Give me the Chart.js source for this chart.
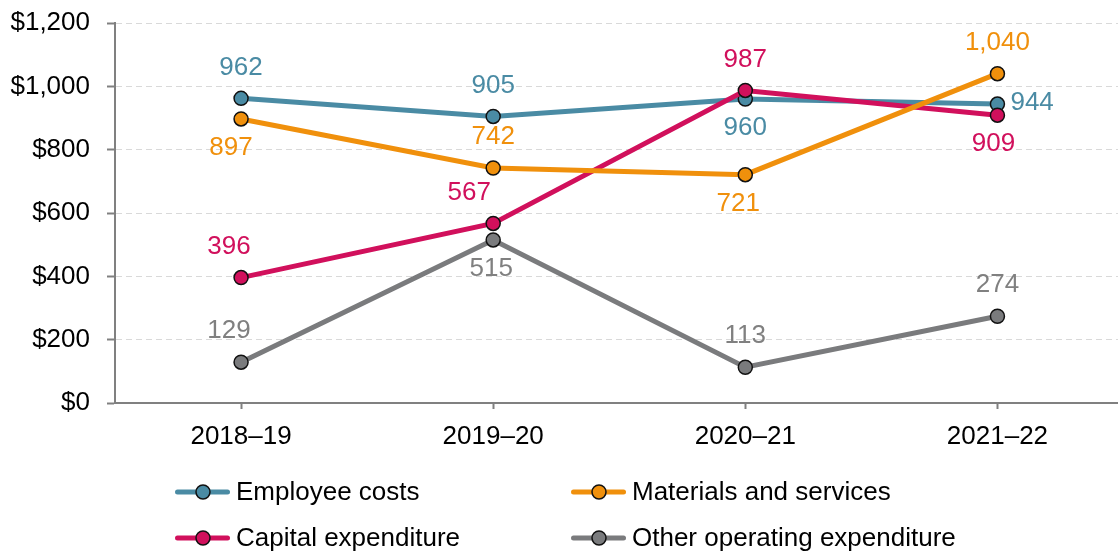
<!DOCTYPE html>
<html>
<head>
<meta charset="utf-8">
<script src="https://cdn.jsdelivr.net/npm/chart.js@4"></script>
<style>
html,body{margin:0;padding:0;background:#fff;overflow:hidden;}
#wrap{width:1132px;height:551px;}
</style>
</head>
<body>
<div id="wrap"><canvas id="c" width="1132" height="551"></canvas></div>
<script>
const categories = ['2018\u201319','2019\u201320','2020\u201321','2021\u201322'];
const employeeCosts = [962, 905, 960, 944];
const materialsServices = [897, 742, 721, 1040];
const capitalExpenditure = [396, 567, 987, 909];
const otherOperating = [129, 515, 113, 274];
const yTicks = [0, 200, 400, 600, 800, 1000, 1200];

// label placement: a = above, b = below, r = right
const labelPos = [
  ['a','a','b','r'],
  ['b','a','b','a'],
  ['a','a','a','b'],
  ['a','b','a','a']
];
const labelDx = [
  [0,0,0,0],
  [-10,0,-7,0],
  [-12,-24,0,-4],
  [-12,-2,0,0]
];

const colors = ['#4A8BA4','#F0900C','#D1105C','#7A7B7D'];
const labelColors = ['#4A8BA4','#F0900C','#D1105C','#808080'];
const FONT = '"Liberation Sans", Arial, sans-serif';
const FS = 26;

function mkDs(label, data, idx, order){
  return {
    label, data,
    borderColor: colors[idx],
    backgroundColor: colors[idx],
    pointBackgroundColor: colors[idx],
    pointBorderColor: '#111',
    pointBorderWidth: 1.5,
    pointRadius: 7,
    pointHoverRadius: 7,
    borderWidth: 5,
    tension: 0,
    order
  };
}

const labelPlugin = {
  id: 'valLabels',
  afterDatasetsDraw(chart){
    const ctx = chart.ctx;
    ctx.save();
    ctx.font = FS + 'px ' + FONT;
    chart.data.datasets.forEach((ds, i) => {
      const meta = chart.getDatasetMeta(i);
      meta.data.forEach((pt, j) => {
        const v = ds.data[j].toLocaleString('en-US');
        const p = labelPos[i][j];
        ctx.fillStyle = labelColors[i];
        ctx.textBaseline = 'middle';
        let x = pt.x + labelDx[i][j], y = pt.y;
        if (p === 'a') { ctx.textAlign = 'center'; y -= 31; }
        else if (p === 'b') { ctx.textAlign = 'center'; y += 29; }
        else { ctx.textAlign = 'left'; x += 13; y -= 1; }
        ctx.fillText(v, x, y);
      });
    });
    ctx.restore();
  }
};

const legendPlugin = {
  id: 'customLegend',
  afterDraw(chart){
    const ctx = chart.ctx;
    const spots = [[175,492],[571,492],[175,538],[571,538]];
    ctx.save();
    chart.data.datasets.forEach((ds, i) => {
      const [x, y] = spots[i];
      ctx.strokeStyle = colors[i];
      ctx.lineWidth = 5;
      ctx.lineCap = 'round';
      ctx.beginPath(); ctx.moveTo(x + 2.5, y); ctx.lineTo(x + 52.5, y); ctx.stroke();
      ctx.beginPath(); ctx.arc(x + 28, y, 7, 0, Math.PI * 2);
      ctx.fillStyle = colors[i]; ctx.fill();
      ctx.lineWidth = 1.5; ctx.strokeStyle = '#111'; ctx.stroke();
      ctx.fillStyle = '#000';
      ctx.font = FS + 'px ' + FONT;
      ctx.textAlign = 'left'; ctx.textBaseline = 'middle';
      ctx.fillText(ds.label, x + 61, y + 1);
    });
    ctx.restore();
  }
};

new Chart(document.getElementById('c'), {
  type: 'line',
  data: {
    labels: categories,
    datasets: [
      mkDs('Employee costs', employeeCosts, 0, 4),
      mkDs('Materials and services', materialsServices, 1, 2),
      mkDs('Capital expenditure', capitalExpenditure, 2, 3),
      mkDs('Other operating expenditure', otherOperating, 3, 1)
    ]
  },
  options: {
    responsive: false,
    animation: false,
    layout: { padding: { top: 23, left: 0, right: 0, bottom: 0 } },
    plugins: { legend: { display: false }, tooltip: { enabled: false } },
    scales: {
      x: {
        offset: true,
        grid: { drawOnChartArea: false, drawTicks: true, tickLength: 6, tickColor: '#808080', tickWidth: 2 },
        border: { color: '#808080', width: 2 },
        ticks: { color: '#000', font: { family: FONT, size: FS }, padding: 12, maxRotation: 0 },
        afterFit(s){ s.height = 148; s.paddingLeft = 0; s.paddingRight = 0; }
      },
      y: {
        min: 0, max: 1200,
        afterBuildTicks(s){ s.ticks = yTicks.map(v => ({ value: v })); },
        grid: { color: '#D9D9D9', lineWidth: 1, tickLength: 8, tickColor: '#808080', tickWidth: 2 },
        border: { color: '#808080', width: 2, dash: [6, 4] },
        ticks: {
          color: '#000', font: { family: FONT, size: FS }, padding: 17,
          callback: v => '$' + v.toLocaleString('en-US')
        },
        afterFit(s){ s.width = 115; s.paddingTop = 0; s.paddingBottom = 0; }
      }
    }
  },
  plugins: [labelPlugin, legendPlugin]
});
</script>
</body>
</html>
